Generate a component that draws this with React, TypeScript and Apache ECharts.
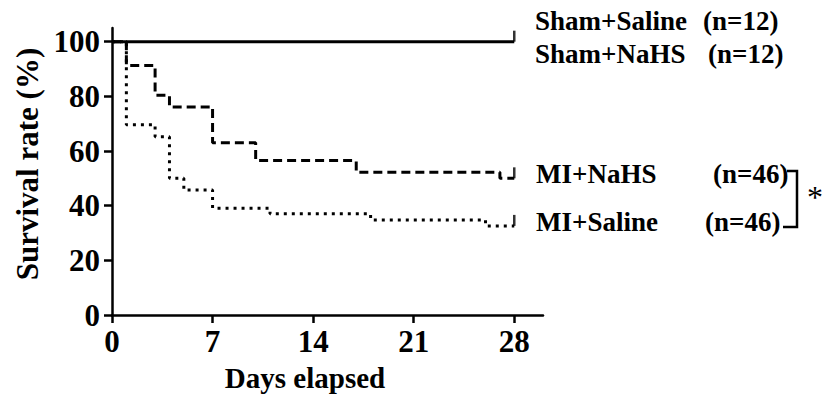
import React, { useEffect, useRef } from "react";
import * as echarts from "echarts";

// ---- data ----
const xTicks = [0, 7, 14, 21, 28];
const yTicks = [0, 20, 40, 60, 80, 100];

const shamDays = [0, 28];
const shamSurv = [100, 100];

const naDays = [0, 1, 3, 4, 7, 10, 17, 27, 28];
const naSurv = [100, 91.3, 80.4, 76.1, 63.0, 56.5, 52.2, 50, 50];

const salDays = [0, 1, 3, 4, 5, 7, 11, 18, 26, 28];
const salSurv = [100, 69.6, 65.2, 50, 45.7, 39.1, 37.0, 34.8, 32.6, 32.6];

const censorDays = [28, 28, 28];
const censorSurv = [100, 50, 32.6];

const groupLabels = ["Sham+Saline", "Sham+NaHS", "MI+NaHS", "MI+Saline"];
const groupN = ["(n=12)", "(n=12)", "(n=46)", "(n=46)"];

const FONT = '"Liberation Serif", "Times New Roman", serif';

function zip(xs: number[], ys: number[]) {
  return xs.map((x, i) => [x, ys[i]]);
}

export default function App() {
  const ref = useRef<HTMLDivElement>(null);
  useEffect(() => {
    if (!ref.current) return;
    const chart = echarts.init(ref.current, undefined, { renderer: "svg" });
    const labelStyle = { fontFamily: FONT, fontWeight: "bold" as const, fill: "#000" };
    const legendPos = [
      { x: 535, y: 21, nx: 703 },
      { x: 535, y: 54, nx: 708 },
      { x: 536, y: 174, nx: 713 },
      { x: 536, y: 222, nx: 705 },
    ];
    const graphics: any[] = [];
    groupLabels.forEach((g, i) => {
      graphics.push({
        type: "text",
        x: legendPos[i].x,
        y: legendPos[i].y,
        style: { ...labelStyle, text: g, fontSize: 27, textAlign: "left", textVerticalAlign: "middle" },
      });
      graphics.push({
        type: "text",
        x: legendPos[i].nx,
        y: legendPos[i].y,
        style: { ...labelStyle, text: groupN[i], fontSize: 27, textAlign: "left", textVerticalAlign: "middle" },
      });
    });
    graphics.push({
      type: "polyline",
      shape: { points: [[787, 171], [797, 171], [797, 227], [783, 227]] },
      style: { stroke: "#000", lineWidth: 2.5, fill: "none" },
    });
    graphics.push({
      type: "text",
      x: 815,
      y: 197,
      style: { text: "*", fontFamily: FONT, fontSize: 32, fill: "#000", textAlign: "center", textVerticalAlign: "middle" },
    });
    graphics.push({
      type: "text",
      x: 305,
      y: 378,
      style: { ...labelStyle, text: "Days elapsed", fontSize: 29, textAlign: "center", textVerticalAlign: "middle" },
    });
    graphics.push({
      type: "text",
      x: 27,
      y: 164,
      rotation: Math.PI / 2,
      style: { ...labelStyle, text: "Survival rate (%)", fontSize: 31, textAlign: "center", textVerticalAlign: "middle" },
    });

    chart.setOption({
      animation: false,
      grid: { left: 112, right: 285, top: 28, bottom: 81 },
      xAxis: {
        type: "value",
        min: 0,
        max: 30,
        interval: 7,
        axisLine: { show: true, lineStyle: { color: "#000", width: 2.5 } },
        axisTick: { show: true, length: 8, lineStyle: { color: "#000", width: 2.5 }, customValues: xTicks },
        axisLabel: {
          customValues: xTicks,
          fontFamily: FONT,
          fontWeight: "bold",
          fontSize: 31,
          color: "#000",
          margin: 11,
        },
        splitLine: { show: false },
      },
      yAxis: {
        type: "value",
        min: 0,
        max: 105,
        interval: 20,
        axisLine: { show: true, lineStyle: { color: "#000", width: 2.5 } },
        axisTick: { show: true, length: 8, lineStyle: { color: "#000", width: 2.5 }, customValues: yTicks },
        axisLabel: {
          customValues: yTicks,
          fontFamily: FONT,
          fontWeight: "bold",
          fontSize: 31,
          color: "#000",
          margin: 12,
        },
        splitLine: { show: false },
      },
      graphic: graphics,
      series: [
        {
          name: "MI+NaHS",
          type: "line",
          step: "end",
          data: zip(naDays, naSurv),
          symbol: "none",
          lineStyle: { color: "#000", width: 3, type: [9, 5] },
        },
        {
          name: "MI+Saline",
          type: "line",
          step: "end",
          data: zip(salDays, salSurv),
          symbol: "none",
          lineStyle: { color: "#000", width: 3, type: [3, 5] },
        },
        {
          name: "Sham",
          type: "line",
          step: "end",
          data: zip(shamDays, shamSurv),
          symbol: "none",
          lineStyle: { color: "#000", width: 3, type: "solid" },
        },
        {
          name: "censor",
          type: "scatter",
          data: zip(censorDays, censorSurv),
          symbol: "rect",
          symbolSize: [2.5, 11],
          symbolOffset: [0, -5.5],
          itemStyle: { color: "#000" },
        },
      ],
    });
    return () => chart.dispose();
  }, []);
  return (
    <div
      ref={ref}
      style={{ position: "fixed", left: 0, top: 0, width: 828, height: 396, background: "#fff" }}
    />
  );
}
